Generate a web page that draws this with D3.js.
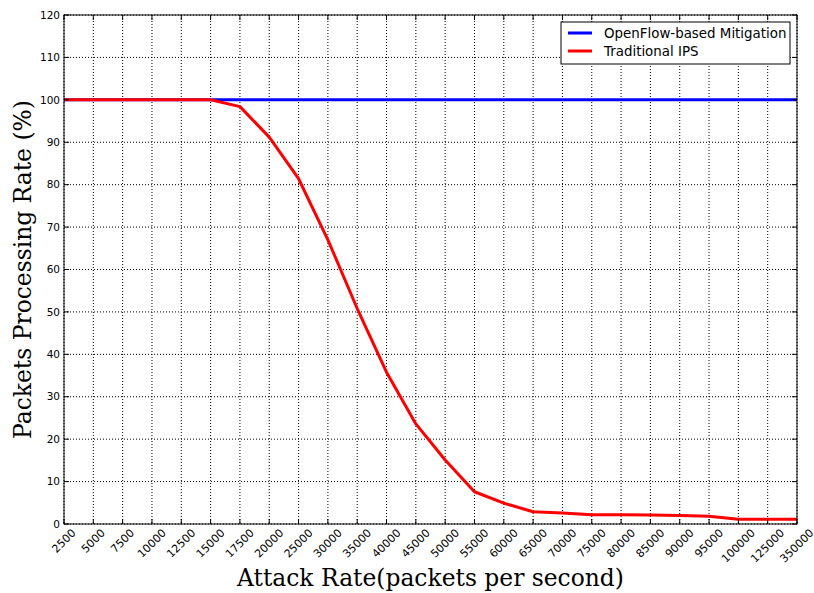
<!DOCTYPE html>
<html><head><meta charset="utf-8">
<script src="https://cdn.jsdelivr.net/npm/d3@7"></script>
<style>body{margin:0;background:#fff}svg{display:block}</style>
</head><body>
<svg id="chart" width="814" height="593"></svg>
<script>
const categories = ["2500","5000","7500","10000","12500","15000","17500","20000","25000","30000","35000","40000","45000","50000","55000","60000","65000","70000","75000","80000","85000","90000","95000","100000","125000","350000"];
const openflowValues = [100,100,100,100,100,100,100,100,100,100,100,100,100,100,100,100,100,100,100,100,100,100,100,100,100,100];
const ipsValues = [100,100,100,100,100,100,98.4,91.2,81.4,67.0,50.8,35.8,23.6,15.1,7.6,4.9,2.9,2.6,2.2,2.2,2.1,2.0,1.8,1.1,1.1,1.1];
const yTicks = [0,10,20,30,40,50,60,70,80,90,100,110,120];
const seriesNames = ["OpenFlow-based Mitigation","Traditional IPS"];
const seriesColors = ["#0000ff","#ff0000"];

(function(){
const svg = d3.select("#chart");
const pl = 64, pr = 797, pt = 15, pb = 524;

const x = d3.scalePoint().domain(categories).range([pl, pr]);
const y = d3.scaleLinear().domain([0, 120]).range([pb, pt]);

// grid
const g = svg.append("g");
g.selectAll("line.vg").data(categories).enter().append("line")
  .attr("x1", d => x(d)).attr("x2", d => x(d)).attr("y1", pt).attr("y2", pb)
  .attr("stroke", "#000").attr("stroke-width", 1).attr("stroke-dasharray", "1,2");
g.selectAll("line.hg").data(yTicks).enter().append("line")
  .attr("y1", d => y(d)).attr("y2", d => y(d)).attr("x1", pl).attr("x2", pr)
  .attr("stroke", "#000").attr("stroke-width", 1).attr("stroke-dasharray", "1,2");

// lines
const line = d3.line().x((d, i) => x(categories[i])).y(d => y(d));
[openflowValues, ipsValues].forEach((vals, k) => {
  svg.append("path").datum(vals).attr("d", line)
    .attr("fill", "none").attr("stroke", seriesColors[k]).attr("stroke-width", 3)
    .attr("stroke-linejoin", "round");
});

// ticks (inward, all sides)
const tl = 5;
svg.append("g").selectAll("line").data(categories).enter().append("line")
  .attr("x1", d => x(d)).attr("x2", d => x(d)).attr("y1", pb).attr("y2", pb - tl)
  .attr("stroke", "#000");
svg.append("g").selectAll("line").data(categories).enter().append("line")
  .attr("x1", d => x(d)).attr("x2", d => x(d)).attr("y1", pt).attr("y2", pt + tl)
  .attr("stroke", "#000");
svg.append("g").selectAll("line").data(yTicks).enter().append("line")
  .attr("y1", d => y(d)).attr("y2", d => y(d)).attr("x1", pl).attr("x2", pl + tl)
  .attr("stroke", "#000");
svg.append("g").selectAll("line").data(yTicks).enter().append("line")
  .attr("y1", d => y(d)).attr("y2", d => y(d)).attr("x1", pr).attr("x2", pr - tl)
  .attr("stroke", "#000");

// frame
svg.append("rect").attr("x", pl).attr("y", pt).attr("width", pr - pl).attr("height", pb - pt)
  .attr("fill", "none").attr("stroke", "#000").attr("stroke-width", 1);

// y tick labels
svg.append("g").selectAll("text").data(yTicks).enter().append("text")
  .attr("x", pl - 4).attr("y", d => y(d)).attr("dy", "0.35em")
  .attr("text-anchor", "end").attr("font-family", "DejaVu Sans").attr("font-size", 10.5)
  .text(d => d);

// x tick labels rotated 45, bbox centered under tick
const fsx = 11;
const xl = svg.append("g").selectAll("text").data(categories).enter().append("text")
  .attr("font-family", "DejaVu Sans").attr("font-size", fsx)
  .attr("text-anchor", "middle").attr("dominant-baseline", "central")
  .text(d => d);
xl.each(function(d) {
  const L = this.getComputedTextLength();
  const h = fsx * 0.8;
  const cx = x(d), cy = pb + 4 + (L + h) * 0.3536;
  d3.select(this).attr("x", cx).attr("y", cy).attr("transform", `rotate(-45,${cx},${cy})`);
});

// axis titles
svg.append("text").attr("x", (pl + pr) / 2).attr("y", 586)
  .attr("text-anchor", "middle").attr("font-family", "DejaVu Serif").attr("font-size", 23.4)
  .text("Attack Rate(packets per second)");
svg.append("text").attr("transform", `translate(31,${(pt + pb) / 2}) rotate(-90)`)
  .attr("text-anchor", "middle").attr("font-family", "DejaVu Serif").attr("font-size", 23.4)
  .text("Packets Processing Rate (%)");

// legend
const lg = svg.append("g");
lg.append("rect").attr("x", 561).attr("y", 22).attr("width", 229).attr("height", 42)
  .attr("fill", "#fff").attr("stroke", "#000").attr("stroke-width", 1);
seriesNames.forEach((name, i) => {
  const yy = 33 + i * 18;
  lg.append("line").attr("x1", 568).attr("x2", 592).attr("y1", yy).attr("y2", yy)
    .attr("stroke", seriesColors[i]).attr("stroke-width", 3);
  lg.append("text").attr("x", 604).attr("y", yy).attr("dy", "0.35em")
    .attr("font-family", "DejaVu Sans").attr("font-size", 13.4).text(name);
});
})();
</script>
</body></html>
